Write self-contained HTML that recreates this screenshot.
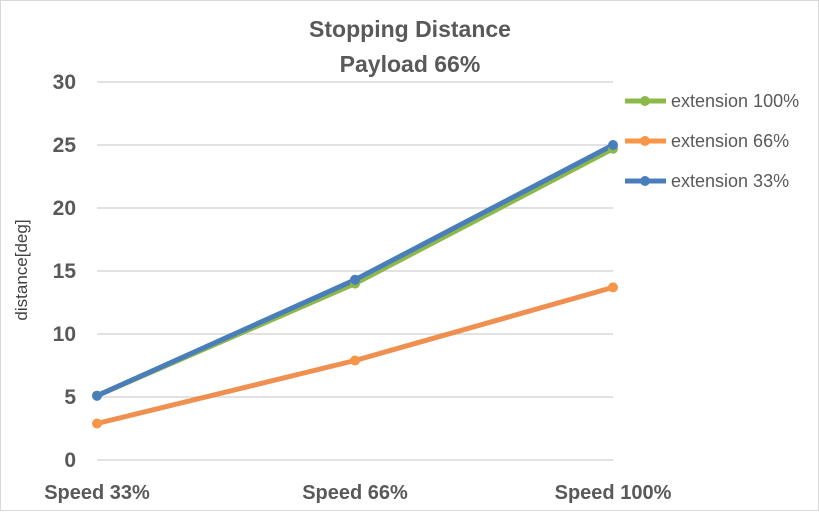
<!DOCTYPE html>
<html><head><style>body{margin:0;background:#fff}</style></head><body>
<svg width="819" height="511" xmlns="http://www.w3.org/2000/svg" font-family="'Liberation Sans Narrow','Liberation Sans',sans-serif">
<rect x="0.5" y="0.5" width="818" height="510" fill="#fff" stroke="#d9d9d9"/>
<g stroke="#d9d9d9" stroke-width="1.5">
<line x1="97" x2="613" y1="82" y2="82"/><line x1="97" x2="613" y1="145" y2="145"/>
<line x1="97" x2="613" y1="208" y2="208"/><line x1="97" x2="613" y1="271" y2="271"/>
<line x1="97" x2="613" y1="334" y2="334"/><line x1="97" x2="613" y1="397" y2="397"/>
<line x1="97" x2="613" y1="460" y2="460"/></g>
<g fill="#595959" font-size="21" text-anchor="end" font-weight="bold">
<text x="76" y="89">30</text><text x="76" y="152">25</text><text x="76" y="215">20</text>
<text x="76" y="278">15</text><text x="76" y="341">10</text><text x="76" y="404">5</text><text x="76" y="467">0</text></g>
<g fill="#595959" font-size="20" text-anchor="middle" font-weight="bold">
<text x="97" y="499">Speed 33%</text><text x="355" y="499">Speed 66%</text><text x="613" y="499">Speed 100%</text></g>
<g fill="#595959" font-size="23" text-anchor="middle" font-weight="bold">
<text x="410" y="37">Stopping Distance</text><text x="410" y="72">Payload 66%</text></g>
<text transform="translate(27,270) rotate(-90)" fill="#404040" font-size="17" text-anchor="middle">distance[deg]</text>
<g fill="none" stroke-width="5" stroke-linejoin="round">
<polyline stroke="#ed7d31" stroke-opacity="0.85" points="97,423.5 355,360.5 613,287.4"/>
<polyline stroke="#8db84a" points="97,395.7 355,283.6 613,148.8"/>
<polyline stroke="#4a7ebb" points="97,395.7 355,279.8 613,145"/></g>
<g fill="#f79646"><circle cx="97" cy="423.5" r="5"/><circle cx="355" cy="360.5" r="5"/><circle cx="613" cy="287.4" r="5"/></g>
<g fill="#8db84a"><circle cx="97" cy="395.7" r="5"/><circle cx="355" cy="283.6" r="5"/><circle cx="613" cy="148.8" r="5"/></g>
<g fill="#4a7ebb"><circle cx="97" cy="395.7" r="5"/><circle cx="355" cy="279.8" r="5"/><circle cx="613" cy="145" r="5"/></g>
<g stroke-width="5">
<line x1="625" x2="666" y1="101" y2="101" stroke="#8db84a"/>
<line x1="625" x2="666" y1="141" y2="141" stroke="#f79646"/>
<line x1="625" x2="666" y1="181" y2="181" stroke="#4a7ebb"/></g>
<circle cx="645" cy="101" r="5" fill="#8db84a"/><circle cx="645" cy="141" r="5" fill="#f79646"/><circle cx="645" cy="181" r="5" fill="#4a7ebb"/>
<g fill="#595959" font-size="18">
<text x="671" y="107">extension 100%</text><text x="671" y="147">extension 66%</text><text x="671" y="187">extension 33%</text></g>
</svg>
</body></html>
